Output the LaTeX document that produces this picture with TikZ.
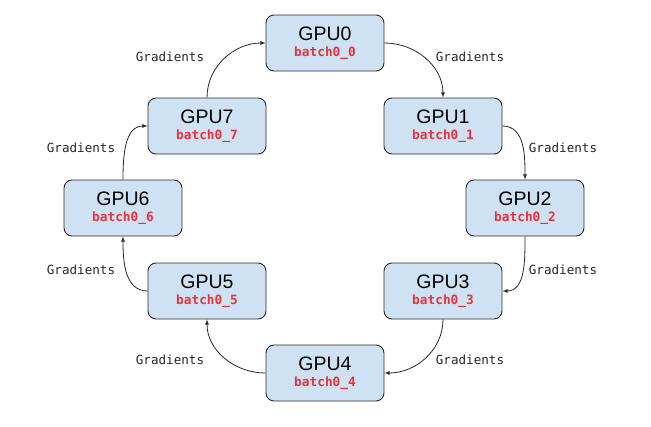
\documentclass[tikz,border=0pt]{standalone}
\usepackage{fontspec}
\setmainfont{Liberation Sans}
\newfontfamily\codefont{DejaVu Sans Mono}
\definecolor{gpufill}{HTML}{CFE2F3}
\definecolor{gpuline}{HTML}{2B2B2B}
\definecolor{batchred}{HTML}{E8323C}
\begin{document}
\begin{tikzpicture}[>=latex, x=1pt, y=-1pt]
			\tikzset{
				gpubox/.style={draw=gpuline, fill=gpufill, line width=0.9pt, rounded corners=8pt,
						minimum width=118pt, minimum height=56pt, inner sep=0pt, align=center},
				gradlabel/.style={font=\codefont\fontsize{12.6}{14}\selectfont, text=black!85, inner sep=0pt},
				ring/.style={->, line width=0.8pt, draw=black!85},
			}
			\useasboundingbox (0,0) rectangle (651,426);
			\foreach \i/\x/\y in {0/325/43, 1/443/126, 2/525/208, 3/443/291,
					4/325/373, 5/207/291, 6/123/208, 7/207/126}
				{
					\node[gpubox] (G\i) at (\x,\y)
					{{\fontsize{19.5}{20}\selectfont GPU\i}\\[3.5pt]
						{\codefont\bfseries\fontsize{12.8}{14}\selectfont\color{batchred}batch0\_\i}};
				}
			% labels beside the arrows
			\foreach \n/\x/\y in {01/470/57, 12/563/148, 23/563/270, 34/470/360,
					45/170/360, 56/81/270, 67/81/148, 70/170/57}
				{
					\node[gradlabel] (L\n) at (\x,\y) {Gradients};
				}
			\draw[ring] (G0.east) to[out=0, in=90] (G1.north);
			\draw[ring] (G1.east) to[out=0, in=90] (G2.north);
			\draw[ring] (G2.south) to[out=-90, in=0] (G3.east);
			\draw[ring] (G3.south) to[out=-90, in=0] (G4.east);
			\draw[ring] (G4.west) to[out=180, in=-90] (G5.south);
			\draw[ring] (G5.west) to[out=180, in=-90] (G6.south);
			\draw[ring] (G6.north) to[out=90, in=180] (G7.west);
			\draw[ring] (G7.north) to[out=90, in=180] (G0.west);
		\end{tikzpicture}
\end{document}
